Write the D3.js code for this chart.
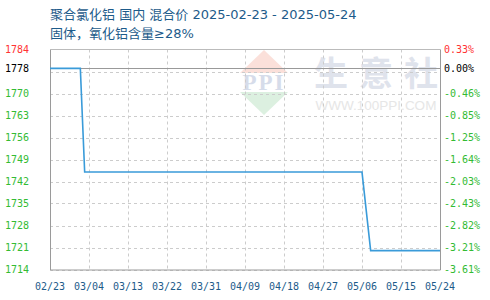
<!DOCTYPE html>
<html>
<head>
<meta charset="utf-8">
<script src="https://cdn.jsdelivr.net/npm/d3@7/dist/d3.min.js"></script>
<style>
  html, body { margin: 0; padding: 0; background: #fff; }
  svg { display: block; }
</style>
</head>
<body>
<svg id="chart" width="490" height="300"></svg>
<script>
// Price series (yuan/ton) for 聚合氯化铝, 固体, 氧化铝含量≥28%
const dates  = ["2025-02-23", "2025-03-02", "2025-03-03", "2025-05-06", "2025-05-08", "2025-05-24"];
const prices = [1778, 1778, 1745, 1745, 1720, 1720];

// Reference (start) price and axis ticks
const basePrice = 1778;
const yTicks = [1714, 1721, 1728, 1735, 1742, 1749, 1756, 1763, 1770, 1777, 1784];
const yTickLabels = ["1714", "1721", "1728", "1735", "1742", "1749", "1756", "1763", "1770", "", "1784"];
const pctTickLabels = ["-3.61%", "-3.21%", "-2.82%", "-2.43%", "-2.03%", "-1.64%", "-1.25%", "-0.85%", "-0.46%", "", "0.33%"];
const xTickLabels = ["02/23", "03/04", "03/13", "03/22", "03/31", "04/09", "04/18", "04/27", "05/06", "05/15", "05/24"];

const titleLines = ["聚合氯化铝 国内 混合价 2025-02-23 - 2025-05-24", "固体，氧化铝含量≥28%"];
const brandChars = ["生", "意", "社"];

const svg = d3.select("#chart");
const plotL = 50, plotR = 440, plotT = 49.5, plotB = 269.5;
const parse = d3.timeParse("%Y-%m-%d");
const data = dates.map((d, i) => ({ date: parse(d), value: prices[i] }));

const x = d3.scaleTime()
  .domain([parse("2025-02-23"), parse("2025-05-24")])
  .range([plotL, plotR]);
const y = d3.scaleLinear()
  .domain([1714, 1784])
  .range([plotB, plotT]);

const monoFont = "'DejaVu Sans Mono', monospace";
const titleFont = "'DejaVu Sans', 'Noto Sans CJK SC', sans-serif";
const cjkFont = "'Noto Sans CJK SC', 'Noto Sans', sans-serif";

// Title
svg.append("g").selectAll("text").data(titleLines).join("text")
  .attr("x", 50)
  .attr("y", (d, i) => 19 + i * 19)
  .attr("font-family", titleFont)
  .attr("font-size", 13)
  .attr("fill", "#1d5b8a")
  .text(d => d);

// Watermark
const wm = svg.append("g");
const cx = 264;
wm.append("path")
  .attr("d", `M${cx},50 L${cx + 24},73 L${cx - 24},73 Z`)
  .attr("fill", "#fbe0da");
wm.append("path")
  .attr("d", `M${cx - 24},92 L${cx + 24},92 L${cx},115 Z`)
  .attr("fill", "#dcf0e0");
wm.append("text")
  .attr("x", cx).attr("y", 90)
  .attr("text-anchor", "middle")
  .attr("font-family", "'Liberation Serif', serif")
  .attr("font-weight", "bold")
  .attr("font-size", 23)
  .attr("letter-spacing", 2)
  .attr("fill", "#d6dcea")
  .text("PPI");
wm.append("g").selectAll("text").data(brandChars).join("text")
  .attr("x", (d, i) => 331 + i * 45)
  .attr("y", 86)
  .attr("text-anchor", "middle")
  .attr("font-family", cjkFont)
  .attr("font-weight", "bold")
  .attr("font-size", 34)
  .attr("fill", "#dfe3ec")
  .text(d => d);
wm.append("text")
  .attr("x", 376).attr("y", 110)
  .attr("text-anchor", "middle")
  .attr("font-family", "'Liberation Sans', sans-serif")
  .attr("font-size", 13.5)
  .attr("fill", "#e6e6e6")
  .text("WWW.100PPI.COM");

// Gridlines
const xTickDates = xTickLabels.map((_, i) => d3.timeDay.offset(parse("2025-02-23"), i * 9));
svg.append("g").selectAll("line").data(xTickDates.slice(1, -1)).join("line")
  .attr("x1", d => Math.round(x(d)) + 0.5).attr("x2", d => Math.round(x(d)) + 0.5)
  .attr("y1", plotT).attr("y2", plotB)
  .attr("stroke", "#cccccc").attr("stroke-dasharray", "3,3");
svg.append("g").selectAll("line").data(yTicks.slice(0, -1)).join("line")
  .attr("x1", plotL).attr("x2", plotR)
  .attr("y1", d => Math.round(y(d)) + 0.5).attr("y2", d => Math.round(y(d)) + 0.5)
  .attr("stroke", "#cccccc").attr("stroke-dasharray", "3,3");

// Reference line at start price
svg.append("line")
  .attr("x1", plotL).attr("x2", plotR)
  .attr("y1", Math.round(y(basePrice)) + 0.5).attr("y2", Math.round(y(basePrice)) + 0.5)
  .attr("stroke", "#999999");

// Frame
svg.append("path")
  .attr("d", `M${plotL + 0.5},${plotT} V${plotB + 0.5} H${plotR + 0.5} V${plotT}`)
  .attr("fill", "none").attr("stroke", "#9a9a9a");
svg.append("line")
  .attr("x1", plotL).attr("x2", plotR + 0.5)
  .attr("y1", plotT).attr("y2", plotT)
  .attr("stroke", "#bbbbbb");

// Price line
svg.append("path")
  .datum(data)
  .attr("fill", "none")
  .attr("stroke", "#3a9bd9")
  .attr("stroke-width", 1.6)
  .attr("d", d3.line().x(d => x(d.date)).y(d => y(d.value)));

// Labelled ticks only (the tick next to the start price is left unlabelled)
const tickRows = yTicks
  .map((v, i) => ({
    value: v,
    label: yTickLabels[i],
    pct: pctTickLabels[i],
    color: i === yTicks.length - 1 ? "#ff3333" : "#33bb33"
  }))
  .filter(d => d.label !== "");
tickRows.push({ value: basePrice, label: String(basePrice), pct: "0.00%", color: "#000000" });

// Left axis labels
svg.append("g").selectAll("text").data(tickRows).join("text")
  .attr("x", 5)
  .attr("y", d => y(d.value))
  .attr("dy", "0.36em")
  .attr("font-family", monoFont)
  .attr("font-size", 10)
  .attr("fill", d => d.color)
  .text(d => d.label);

// Right axis labels (change vs start price)
svg.append("g").selectAll("text").data(tickRows).join("text")
  .attr("x", 444)
  .attr("y", d => y(d.value))
  .attr("dy", "0.36em")
  .attr("font-family", monoFont)
  .attr("font-size", 10)
  .attr("fill", d => d.color)
  .text(d => d.pct);

// Bottom axis labels
svg.append("g").selectAll("text").data(xTickDates).join("text")
  .attr("x", d => x(d))
  .attr("y", 290)
  .attr("text-anchor", "middle")
  .attr("font-family", monoFont)
  .attr("font-size", 10)
  .attr("fill", "#1d5b8a")
  .text((d, i) => xTickLabels[i]);
</script>
</body>
</html>
